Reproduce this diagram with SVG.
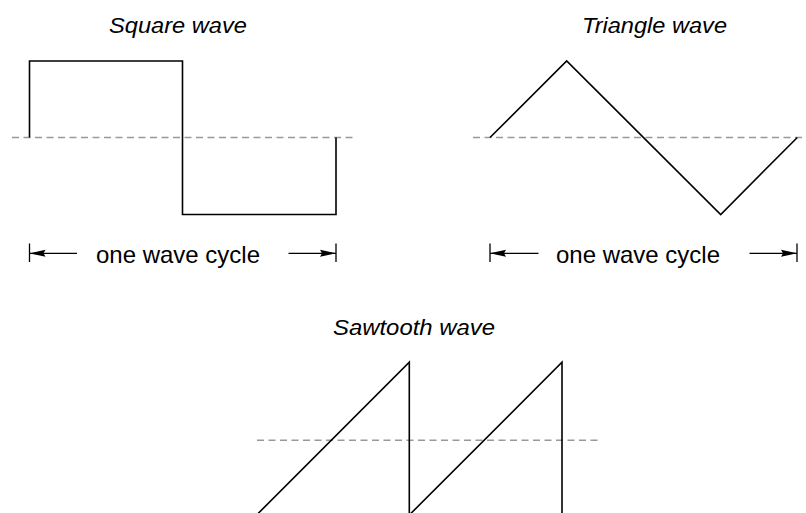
<svg xmlns="http://www.w3.org/2000/svg" width="806" height="513" viewBox="0 0 806 513">
<style>
.wave{fill:none;stroke:#000;stroke-width:1.6;stroke-linejoin:miter}
.axis{fill:none;stroke:#999;stroke-width:1.5;stroke-dasharray:7 4.5}
.dim{fill:none;stroke:#000;stroke-width:1.3}
.title{font-family:"Liberation Sans",Arial,sans-serif;font-style:italic;font-size:22px;fill:#000}
.lbl{font-family:"Liberation Sans",Arial,sans-serif;font-size:24px;fill:#000}
</style>
<defs>
<marker id="ah" viewBox="0 0 16 8" refX="16" refY="4" markerWidth="16" markerHeight="8" markerUnits="userSpaceOnUse" orient="auto">
<path d="M0,0.5 L16,4 L0,7.5 L2,4 Z" fill="#000"/>
</marker>
</defs>
<rect width="806" height="513" fill="#fff"/>
<g id="square">
<text class="title" x="109" y="33" textLength="138" lengthAdjust="spacingAndGlyphs">Square wave</text>
<line class="axis" x1="12" y1="137.5" x2="357" y2="137.5"/>
<path class="wave" d="M29.5,137.5 V61 H182.5 V214.5 H336 V137.5"/>
<g id="square-dim">
<line class="dim" x1="29.5" y1="243.5" x2="29.5" y2="262"/>
<line class="dim" x1="336" y1="243.5" x2="336" y2="262"/>
<line class="dim" x1="77" y1="253.3" x2="29.5" y2="253.3" marker-end="url(#ah)"/>
<line class="dim" x1="288.5" y1="253.3" x2="336" y2="253.3" marker-end="url(#ah)"/>
<text class="lbl" x="178" y="263.3" text-anchor="middle">one wave cycle</text>
</g>
</g>
<g id="triangle">
<text class="title" x="582" y="33" textLength="145" lengthAdjust="spacingAndGlyphs">Triangle wave</text>
<line class="axis" x1="473" y1="137.5" x2="806" y2="137.5"/>
<path class="wave" d="M490,137.5 L566.7,61 L720.7,214.5 L797.3,137.5"/>
<g id="triangle-dim">
<line class="dim" x1="490" y1="243.5" x2="490" y2="262"/>
<line class="dim" x1="797" y1="243.5" x2="797" y2="262"/>
<line class="dim" x1="538.5" y1="253.3" x2="490" y2="253.3" marker-end="url(#ah)"/>
<line class="dim" x1="749.5" y1="253.3" x2="797" y2="253.3" marker-end="url(#ah)"/>
<text class="lbl" x="638" y="263.3" text-anchor="middle">one wave cycle</text>
</g>
</g>
<g id="sawtooth">
<text class="title" x="333" y="335" textLength="162" lengthAdjust="spacingAndGlyphs">Sawtooth wave</text>
<line class="axis" x1="257" y1="440.3" x2="602" y2="440.3"/>
<path class="wave" d="M252,519.6 L409.3,362.3 V520 M406.5,517.8 L562,362.3 V520"/>
</g>
</svg>
